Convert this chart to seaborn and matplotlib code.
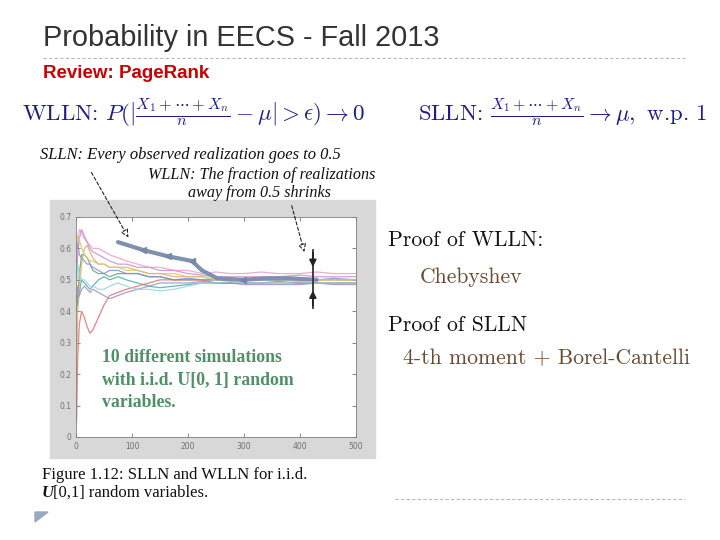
import numpy as np
import pandas as pd
import matplotlib
matplotlib.use("Agg")
import matplotlib.pyplot as plt
import seaborn as sns
from matplotlib.patches import Rectangle, Polygon
from matplotlib.lines import Line2D

n = [1, 3, 6, 10, 15, 20, 25, 30, 40, 50, 60, 75, 90, 110, 130, 150,
     175, 200, 225, 250, 275, 300, 330, 360, 400, 430, 460, 500]

# running means of the 10 simulations (read by eye)
sim1 = [0.55, 0.62, 0.66, 0.65, 0.63, 0.62, 0.61, 0.60, 0.60, 0.59, 0.58, 0.57, 0.56, 0.55,
        0.54, 0.54, 0.53, 0.53, 0.52, 0.525, 0.52, 0.52, 0.525, 0.52, 0.52, 0.525, 0.52, 0.52]
sim2 = [0.50, 0.58, 0.63, 0.66, 0.64, 0.62, 0.60, 0.59, 0.58, 0.57, 0.56, 0.55, 0.55, 0.54,
        0.54, 0.53, 0.53, 0.52, 0.515, 0.51, 0.51, 0.51, 0.51, 0.51, 0.515, 0.51, 0.51, 0.51]
sim3 = [0.40, 0.45, 0.52, 0.58, 0.58, 0.57, 0.55, 0.53, 0.52, 0.52, 0.51, 0.52, 0.52, 0.52,
        0.51, 0.51, 0.50, 0.50, 0.50, 0.50, 0.50, 0.50, 0.50, 0.50, 0.50, 0.50, 0.50, 0.50]
sim4 = [0.45, 0.42, 0.46, 0.50, 0.49, 0.48, 0.47, 0.48, 0.50, 0.51, 0.50, 0.51, 0.50, 0.49,
        0.48, 0.475, 0.48, 0.485, 0.49, 0.49, 0.49, 0.49, 0.49, 0.495, 0.49, 0.49, 0.49, 0.49]
sim5 = [0.60, 0.62, 0.58, 0.57, 0.56, 0.55, 0.55, 0.54, 0.53, 0.52, 0.53, 0.53, 0.52, 0.52,
        0.51, 0.51, 0.50, 0.505, 0.50, 0.50, 0.50, 0.505, 0.50, 0.50, 0.50, 0.50, 0.505, 0.50]
sim6 = [0.05, 0.25, 0.36, 0.40, 0.38, 0.35, 0.33, 0.34, 0.38, 0.42, 0.45, 0.46, 0.47, 0.48,
        0.49, 0.50, 0.50, 0.50, 0.50, 0.49, 0.49, 0.49, 0.49, 0.49, 0.49, 0.49, 0.49, 0.49]
sim7 = [0.20, 0.40, 0.48, 0.55, 0.60, 0.61, 0.59, 0.57, 0.55, 0.55, 0.54, 0.54, 0.54, 0.53,
        0.52, 0.52, 0.51, 0.51, 0.51, 0.50, 0.50, 0.50, 0.50, 0.51, 0.50, 0.50, 0.50, 0.50]
sim8 = [0.60, 0.64, 0.63, 0.60, 0.58, 0.57, 0.56, 0.56, 0.55, 0.55, 0.54, 0.54, 0.53, 0.53,
        0.52, 0.52, 0.52, 0.51, 0.51, 0.50, 0.50, 0.50, 0.505, 0.50, 0.50, 0.50, 0.50, 0.50]
sim9 = [0.45, 0.48, 0.45, 0.47, 0.48, 0.47, 0.46, 0.47, 0.46, 0.45, 0.44, 0.45, 0.46, 0.47,
        0.48, 0.49, 0.49, 0.49, 0.495, 0.49, 0.49, 0.485, 0.485, 0.485, 0.485, 0.49, 0.485, 0.485]
sim10 = [0.50, 0.55, 0.52, 0.50, 0.50, 0.49, 0.48, 0.48, 0.47, 0.47, 0.48, 0.49, 0.48, 0.47,
         0.47, 0.465, 0.47, 0.48, 0.49, 0.49, 0.495, 0.49, 0.49, 0.49, 0.495, 0.49, 0.49, 0.49]

# highlighted realization (thick line)
hl_n = [75, 120, 164, 207, 225, 252, 298, 340, 380, 430]
hl_y = [0.62, 0.595, 0.575, 0.56, 0.53, 0.505, 0.50, 0.505, 0.505, 0.50]

sims = [sim1, sim2, sim3, sim4, sim5, sim6, sim7, sim8, sim9, sim10]
colors = ["#e8a0c8", "#c890d0", "#60a870", "#50aaa8", "#8090d8",
          "#e07070", "#e8a868", "#d8c870", "#a090c0", "#90d8d8"]

df = pd.DataFrame({
    "n": n * len(sims),
    "mean": np.concatenate(sims),
    "sim": np.repeat([f"s{i+1}" for i in range(len(sims))], len(n)),
})

W, H = 720, 540
fig = plt.figure(figsize=(7.2, 5.4), dpi=100)
fig.patch.set_facecolor("white")

def fx(px):
    return px / W

def fy(py):
    return 1 - py / H

# slide decorations
fig.add_artist(Line2D([fx(43), fx(685)], [fy(58), fy(58)], color="#b8b8b8", lw=0.8, ls=(0, (3, 2))))
fig.add_artist(Line2D([fx(395), fx(685)], [fy(499), fy(499)], color="#b8b8b8", lw=0.8, ls=(0, (3, 2))))
fig.add_artist(Polygon([[fx(35), fy(512)], [fx(48), fy(512)], [fx(35), fy(522)]],
                       closed=True, transform=fig.transFigure, color="#98a8c0"))
fig.add_artist(Rectangle((fx(50), fy(458)), fx(375) - fx(50), fy(200) - fy(458),
                         transform=fig.transFigure, color="#d8d8d8", zorder=0))

fig.text(fx(43), fy(38), "Probability in EECS - Fall 2013", fontsize=20.8,
         family="Liberation Sans", color="#333333", va="center")
fig.text(fx(43), fy(73), "Review: PageRank", fontsize=13.5, family="Liberation Sans",
         weight="bold", color="#cc0000", va="center")

plt.rcParams["mathtext.fontset"] = "cm"
fig.text(fx(22), fy(113), r"WLLN: $P(|\frac{X_1+\cdots+X_n}{n}-\mu|>\epsilon)\to 0$",
         fontsize=16.6, family="cmr10", color="#1c1c8c", va="center")
fig.text(fx(418), fy(113), r"SLLN: $\frac{X_1+\cdots+X_n}{n}\to\mu,$ w.p. 1",
         fontsize=16.4, family="cmr10", color="#1c1c8c", va="center")

fig.text(fx(388), fy(240), "Proof of WLLN:", fontsize=15.6, family="cmr10", color="#111111", va="center")
fig.text(fx(420), fy(277), "Chebyshev", fontsize=15.6, family="cmr10", color="#6b4a30", va="center")
fig.text(fx(388), fy(325), "Proof of SLLN", fontsize=15.6, family="cmr10", color="#111111", va="center")
fig.text(fx(403), fy(358), "4-th moment + Borel-Cantelli", fontsize=15.6, family="cmr10",
         color="#6b4a30", va="center")

fig.text(fx(40), fy(155), "SLLN: Every observed realization goes to 0.5", fontsize=11.9,
         family="Liberation Serif", style="italic", color="#111111", va="center")
fig.text(fx(148), fy(175), "WLLN: The fraction of realizations", fontsize=11.6,
         family="Liberation Serif", style="italic", color="#111111", va="center")
fig.text(fx(188), fy(193), "away from 0.5 shrinks", fontsize=11.6,
         family="Liberation Serif", style="italic", color="#111111", va="center")

fig.text(fx(42), fy(475), "Figure 1.12: SLLN and WLLN for i.i.d.", fontsize=12,
         family="Liberation Serif", color="#111111", va="center")
fig.text(fx(42), fy(493), "U", fontsize=12, family="Liberation Serif", weight="bold",
         style="italic", color="#111111", va="center")
fig.text(fx(53), fy(493), "[0,1] random variables.", fontsize=12,
         family="Liberation Serif", color="#111111", va="center")

# the plot
ax = fig.add_axes([fx(76), fy(437), fx(356) - fx(76), fy(217) - fy(437)])
ax.set_facecolor("white")
sns.lineplot(data=df, x="n", y="mean", hue="sim", palette=colors, lw=0.9,
             alpha=0.85, legend=False, ax=ax)
ax.plot(hl_n, hl_y, color="#8090b0", lw=3, solid_capstyle="round", zorder=5)
ax.plot(hl_n[1:4] + hl_n[6:7], hl_y[1:4] + hl_y[6:7], ls="none", marker="<",
        ms=4.5, color="#7888a8", zorder=6)

ax.set_xlim(0, 500)
ax.set_ylim(0, 0.7)
ax.set_xticks([0, 100, 200, 300, 400, 500])
ax.set_yticks(np.arange(0, 0.71, 0.1))
ax.set_yticklabels(["0", "0.1", "0.2", "0.3", "0.4", "0.5", "0.6", "0.7"])
ax.tick_params(direction="in", top=True, right=True, labelsize=5.5, colors="#707070",
               length=3, width=0.6)
ax.set_xlabel("")
ax.set_ylabel("")
for sp in ax.spines.values():
    sp.set_color("#808080")
    sp.set_linewidth(0.6)

ax.text(46, 0.18, "10 different simulations\nwith i.i.d. U[0, 1] random\nvariables.",
        fontsize=12.8, family="Liberation Serif", weight="bold", color="#4f9066",
        linespacing=1.42, va="center", ha="left")

# WLLN spread marker
ax.plot([423, 423], [0.41, 0.595], color="#333333", lw=1.3, zorder=7)
ax.annotate("", xy=(423, 0.532), xytext=(423, 0.595),
            arrowprops=dict(arrowstyle="-|>", color="#222222", lw=1.3, mutation_scale=10), zorder=8)
ax.annotate("", xy=(423, 0.475), xytext=(423, 0.41),
            arrowprops=dict(arrowstyle="-|>", color="#222222", lw=1.3, mutation_scale=10), zorder=8)

# dashed pointers from the captions
ax.annotate("", xy=(96, 0.627), xycoords="data", xytext=(fx(90), fy(170)),
            textcoords="figure fraction",
            arrowprops=dict(arrowstyle="-|>", ls=(0, (3, 2)), lw=0.8, ec="#222222",
                            fc="white", mutation_scale=12), annotation_clip=False)
ax.annotate("", xy=(409, 0.58), xycoords="data", xytext=(fx(291), fy(203)),
            textcoords="figure fraction",
            arrowprops=dict(arrowstyle="-|>", ls=(0, (3, 2)), lw=0.8, ec="#222222",
                            fc="white", mutation_scale=12), annotation_clip=False)

fig.savefig("out.png", dpi=100)
